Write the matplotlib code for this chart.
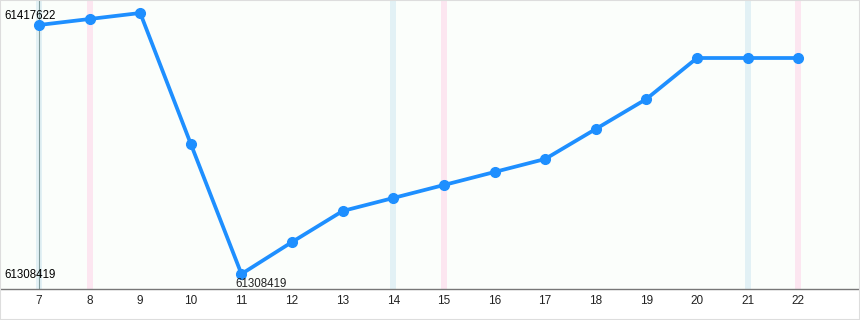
import numpy as np
import matplotlib.pyplot as plt
from matplotlib.transforms import offset_copy

plt.rcParams['font.family'] = ['Liberation Sans', 'DejaVu Sans']

# data
days = [7, 8, 9, 10, 11, 12, 13, 14, 15, 16, 17, 18, 19, 20, 21, 22]
values = [61412601, 61415111, 61417622, 61362810, 61308419, 61321808,
          61334779, 61340217, 61345657, 61351096, 61356535, 61369087,
          61381639, 61398793, 61398793, 61398793]
blue_days = [7, 14, 21]
pink_days = [8, 15, 22]

vmax = max(values)
vmin = min(values)
imin = values.index(vmin)

fig = plt.figure(figsize=(8.6, 3.2), dpi=100)
fig.patch.set_facecolor('white')
ax = fig.add_axes([0, 31 / 320, 1, 289 / 320])
ax.set_facecolor('#fbfefb')

for d in blue_days:
    ax.axvspan(d - 0.06, d + 0.06, color='#e2f1f5', lw=0, zorder=1)
for d in pink_days:
    ax.axvspan(d - 0.06, d + 0.06, color='#fce6f0', lw=0, zorder=1)

ax.plot(days, values, color='#1e8fff', lw=2.7, marker='o', ms=7,
        solid_joinstyle='round', zorder=3)

# left y-axis line at the first day
ax.axvline(days[0], color='#7f9a9a', lw=0.8, zorder=2)

span = vmax - vmin
ax.set_ylim(vmin - span * 15 / 261, vmax + span * 13 / 261)
ax.set_xlim(6.23, 23.22)

for s in ['top', 'right', 'left']:
    ax.spines[s].set_visible(False)
ax.spines['bottom'].set_color('#777777')
ax.spines['bottom'].set_linewidth(1.0)

ax.set_yticks([])
ax.set_xticks(days)
ax.set_xticklabels([str(d) for d in days], fontsize=8.5, color='#222222')
ax.tick_params(axis='x', length=0, pad=4)

tr_top = offset_copy(ax.get_yaxis_transform(), fig=fig, x=0, y=-3, units='dots')
ax.text(4 / 860, vmax, str(vmax), transform=tr_top,
        fontsize=8.3, ha='left', va='center', color='black')
tr_bot = offset_copy(ax.get_yaxis_transform(), fig=fig, x=0, y=-1, units='dots')
ax.text(4 / 860, vmin, str(vmin), transform=tr_bot,
        fontsize=8.3, ha='left', va='center', color='black')
tr = offset_copy(ax.transData, fig=fig, x=-6, y=-4, units='dots')
ax.text(days[imin], vmin, str(vmin), transform=tr,
        fontsize=8.3, ha='left', va='top', color='#222222')

# light border around the figure
fig.patches.append(plt.Rectangle((0, 0), 1, 1, transform=fig.transFigure,
                                 fill=False, ec='#dddddd', lw=1.5))

fig.savefig('out.png', dpi=100)
